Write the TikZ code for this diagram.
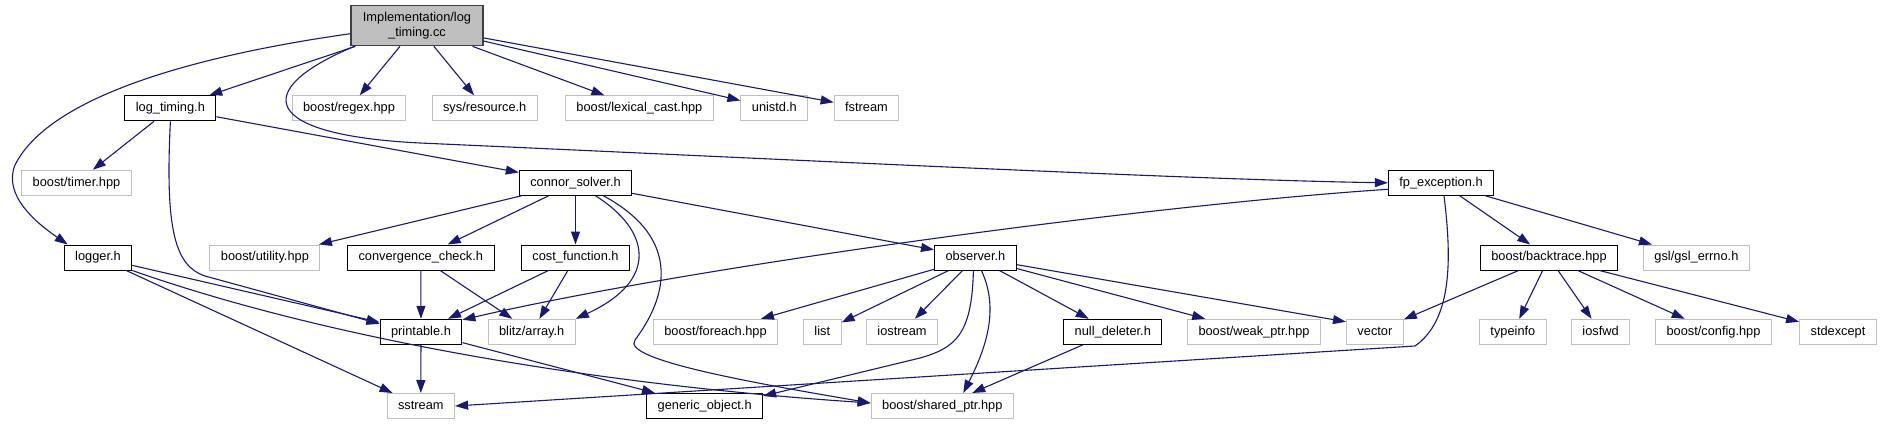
\documentclass[tikz,border=0pt]{standalone}
\usepackage{fontspec}
\setmainfont{Liberation Sans}
\usetikzlibrary{arrows.meta}
\definecolor{dxblue}{HTML}{191970}
\definecolor{dxgrey}{HTML}{BFBFBF}
\definecolor{dxdark}{HTML}{404040}

\begin{document}
\begin{tikzpicture}[x=1pt,y=-1pt,font=\fontsize{12.8}{15}\selectfont,
      hdr/.style={draw=black,line width=1pt,fill=white,inner xsep=11pt,inner ysep=0pt,minimum height=25pt,text height=9.3pt,text depth=2.7pt},
      ext/.style={hdr,draw=dxgrey},
      cur/.style={draw=dxdark,fill=dxgrey,line width=1.3pt,align=center,minimum width=132pt,minimum height=40pt,inner sep=0pt},
      a/.style={-{Triangle[length=13pt,width=9pt]},dxblue,line width=1.1pt}]
      \path[fill=white,use as bounding box] (0,0) rectangle (1883,425);
      \node[cur] (r) at (417,25.7) {Implementation/log\\\_timing.cc};
      \node[hdr] (lt) at (170.4,108.3) {log\_timing.h};
      \node[ext] (rgx) at (349,108.3) {boost/regex.hpp};
      \node[ext] (res) at (484.7,108.3) {sys/resource.h};
      \node[ext] (lex) at (639.4,108.3) {boost/lexical\_cast.hpp};
      \node[ext] (uni) at (774.3,108.3) {unistd.h};
      \node[ext] (fst) at (866.5,108.3) {fstream};
      \node[ext] (tim) at (76.5,182.8) {boost/timer.hpp};
      \node[hdr] (cs) at (575.5,182.8) {connor\_solver.h};
      \node[hdr] (fp) at (1441,182.8) {fp\_exception.h};
      \node[hdr] (lg) at (98,257.5) {logger.h};
      \node[ext] (uti) at (264.9,257.5) {boost/utility.hpp};
      \node[hdr] (cc) at (420.8,257.5) {convergence\_check.h};
      \node[hdr] (cf) at (575.5,257.5) {cost\_function.h};
      \node[hdr] (ob) at (975.4,257.5) {observer.h};
      \node[hdr] (bt) at (1549,257.5) {boost/backtrace.hpp};
      \node[ext] (gsl) at (1696.4,257.5) {gsl/gsl\_errno.h};
      \node[hdr] (pr) at (421,331.8) {printable.h};
      \node[ext] (bl) at (531.7,331.8) {blitz/array.h};
      \node[ext] (fe) at (715.5,331.8) {boost/foreach.hpp};
      \node[ext] (lst) at (822.3,331.8) {list};
      \node[ext] (ios) at (902,331.8) {iostream};
      \node[hdr] (nd) at (1112.8,331.8) {null\_deleter.h};
      \node[ext] (wp) at (1254,331.8) {boost/weak\_ptr.hpp};
      \node[ext] (vec) at (1374.9,331.8) {vector};
      \node[ext] (ti) at (1512.9,331.8) {typeinfo};
      \node[ext] (fwd) at (1600.6,331.8) {iosfwd};
      \node[ext] (cfg) at (1713.5,331.8) {boost/config.hpp};
      \node[ext] (se) at (1838,331.8) {stdexcept};
      \node[ext] (ss) at (420.8,406) {sstream};
      \node[hdr] (go) at (704.7,406) {generic\_object.h};
      \node[ext] (sp) at (942.3,406) {boost/shared\_ptr.hpp};
      % includes of the source file
      \draw[a] ([yshift=-8pt]r.west) .. controls (200,55) and (50,95) .. (15,165) .. controls (3,195) and (35,222) .. ([xshift=4pt]lg.north west);
      \draw[a] (r)--(lt); \draw[a] (r)--(rgx); \draw[a] (r)--(res); \draw[a] (r)--(lex); \draw[a] (r)--(uni); \draw[a] (r)--(fst);
      \draw[a] ([xshift=4pt]r.south west) .. controls (250,90) and (260,135) .. (420,143) .. controls (800,160) and (1200,180) .. (fp.west);
      % second level
      \draw[a] (lt)--(tim); \draw[a] (lt)--(cs);
      \draw[a] (lt.south) .. controls (165,230) and (175,266) .. (205,276) -- ([yshift=8pt]pr.west);
      \draw[a] (cs)--(uti); \draw[a] (cs)--(cc); \draw[a] (cs)--(cf); \draw[a] (cs)--(ob);
      \draw[a] ([xshift=20pt]cs.south) .. controls (650,230) and (660,280) .. (bl.north east);
      \draw[a] ([xshift=28pt]cs.south) .. controls (685,240) and (665,300) .. (635,340) .. controls (620,360) and (760,384) .. ([yshift=3pt]sp.west);
      \draw[a] ([yshift=-6.5pt]fp.west) .. controls (1150,205) and (700,265) .. ([yshift=12pt]pr.east);
      \draw[a] (fp)--(bt); \draw[a] (fp)--(gsl);
      \draw[a] ([xshift=3pt]fp.south) .. controls (1452,260) and (1452,320) .. (1415,346) -- (ss.east);
      % third level
      \draw[a] (lg)--(pr); \draw[a] (lg)--(ss);
      \draw[a] (lg.south east) .. controls (330,340) and (600,385) .. ([yshift=3pt]sp.west);
      \draw[a] (cc)--(pr); \draw[a] (cc)--(bl); \draw[a] (cf)--(pr); \draw[a] (cf)--(bl);
      \draw[a] (pr)--(ss); \draw[a] (pr)--(go);
      \draw[a] (ob)--(fe); \draw[a] (ob)--(lst); \draw[a] (ob)--(ios); \draw[a] (ob)--(nd); \draw[a] (ob)--(wp);
      \draw[a] (ob)--([yshift=10pt]vec.west);
      \draw[a] ([xshift=-2pt]ob.south) .. controls (972,335) and (955,348) .. (920,358) -- ([yshift=-3pt]go.north east);
      \draw[a] ([xshift=6pt]ob.south) .. controls (1000,310) and (985,350) .. ([xshift=21pt]sp.north);
      \draw[a] (nd)--(sp);
      \draw[a] (bt)--(vec); \draw[a] (bt)--(ti); \draw[a] (bt)--(fwd); \draw[a] (bt)--(cfg); \draw[a] (bt)--(se);
    \end{tikzpicture}
\end{document}
